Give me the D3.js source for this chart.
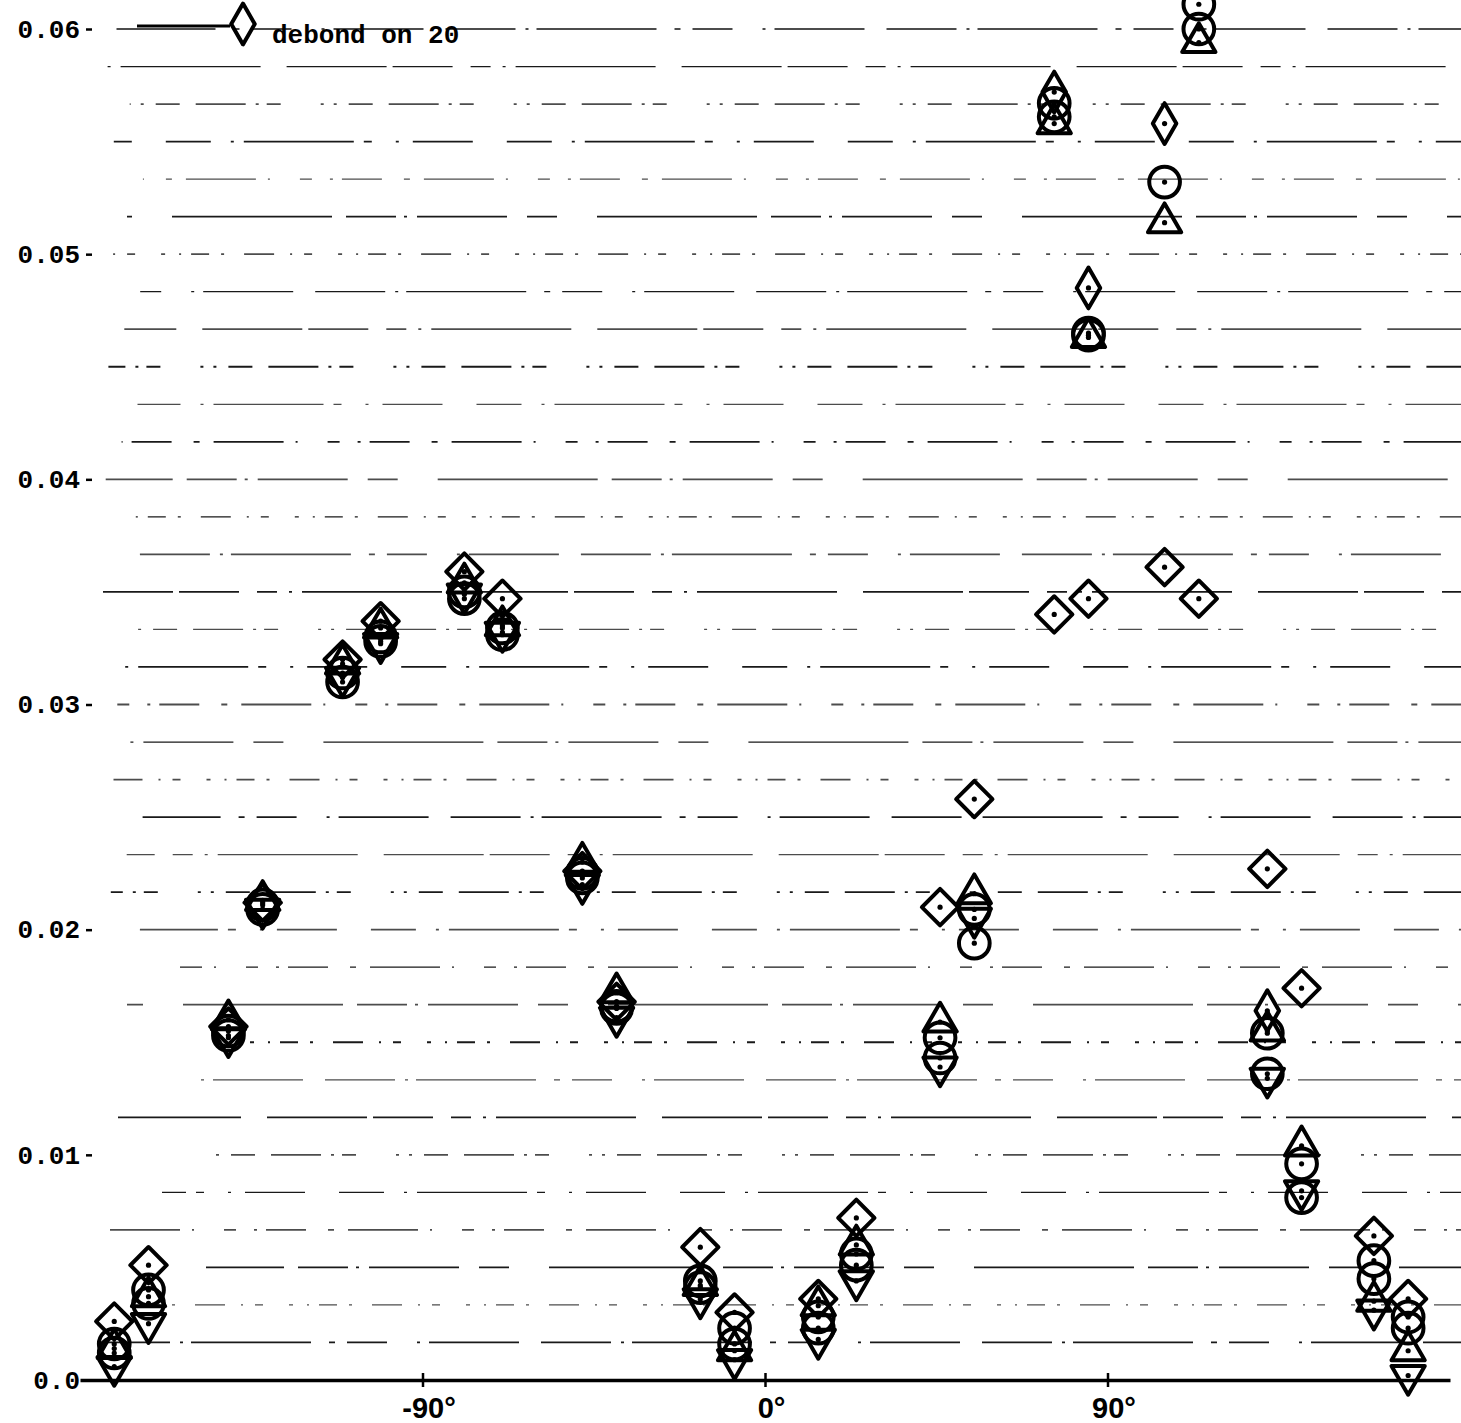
<!DOCTYPE html>
<html>
<head>
<meta charset="utf-8">
<script src="https://cdn.jsdelivr.net/npm/d3@7"></script>
<style>
  body { margin: 0; background: #fff; }
  svg { display: block; background: #fff; }
  .tick text { font-weight: bold; fill: #000; }
</style>
</head>
<body>
<svg width="1461" height="1423"></svg>
<script>
let svg = d3.select("svg");
let width = +svg.attr("width");
let height = +svg.attr("height");

// ply angles (deg) where the values were read
const angles = [-171, -162, -141, -132, -111, -101, -79, -69, -48, -39, -17, -8,
                 14, 24, 46, 55, 76, 85, 105, 114, 132, 141, 160, 169];

// wide diamond
const seriesDiamond = [0.0026, 0.0051, 0.0157, 0.0212, 0.0320, 0.0337, 0.0359, 0.0347,
                       0.0226, 0.0168, 0.0059, 0.0030, 0.0036, 0.0072, 0.0210, 0.0258,
                       0.0340, 0.0347, 0.0361, 0.0347, 0.0227, 0.0174, 0.0064, 0.0036];
// narrow diamond, "debond on 20"
const seriesDebond = [null, null, null, null, null, null, null, null,
                      null, null, null, null, null, null, null, null,
                      0.0572, 0.0485, 0.0558, null, 0.0164, null, null, null];
const seriesCircleA = [0.0016, 0.0040, 0.0155, 0.0211, 0.0314, 0.0330, 0.0350, 0.0334,
                       0.0225, 0.0166, 0.0044, 0.0023, 0.0028, 0.0056, 0.0152, 0.0209,
                       0.0567, 0.0465, 0.0532, 0.0611, 0.0154, 0.0096, 0.0053, 0.0028];
const seriesCircleB = [0.0012, 0.0034, 0.0153, 0.0209, 0.0310, 0.0328, 0.0347, 0.0331,
                       0.0223, 0.0165, 0.0041, 0.0016, 0.0023, 0.0051, 0.0143, 0.0194,
                       0.0561, 0.0464, null, 0.0600, 0.0136, 0.0081, 0.0045, 0.0023];
const seriesTriUp = [0.0014, 0.0037, 0.0160, 0.0213, 0.0318, 0.0334, 0.0354, 0.0335,
                     0.0230, 0.0172, 0.0042, 0.0013, 0.0033, 0.0060, 0.0159, 0.0216,
                     0.0558, 0.0463, 0.0514, 0.0594, 0.0155, 0.0104, 0.0035, 0.0013];
const seriesTriDown = [0.0006, 0.0025, 0.0152, 0.0209, 0.0312, 0.0327, 0.0349, 0.0332,
                       0.0220, 0.0161, 0.0036, 0.0009, 0.0018, 0.0044, 0.0139, 0.0205,
                       null, null, null, null, 0.0134, 0.0084, 0.0031, 0.0002];

const xTicks = [-90, 0, 90];
const yTicks = [0, 0.01, 0.02, 0.03, 0.04, 0.05, 0.06];
const legendLabel = "debond on 20";

let x = d3.scaleLinear().domain([-180, 180]).range([80, 1450]);
let y = d3.scaleLinear().domain([0, 0.06]).range([1380, 29]);

// ruled background lines, broken like the scan
let patterns = [
  "70,10,3,8,120,18,6,12,40,30,3,9,90,22",
  "4,14,2,10,18,12,3,20,30,16,2,12,8,26",
  "160,14,50,8,3,10,90,20,30,40",
  "12,18,3,9,40,22,6,14,70,12,2,30",
  "45,20,3,10,110,10,8,24,3,14,60,34",
  "3,10,3,12,24,16,50,10,3,8,14,40",
  "100,6,60,18,20,12,3,10,140,26"
];
let gridVals = d3.range(1, 37).map(k => k * 0.01 / 6);
svg.append("g")
  .selectAll("line")
  .data(gridVals)
  .enter().append("line")
    .attr("x1", (d, i) => 100 + (i * 53) % 150 * (d < 0.02 ? 1 : 0.3))
    .attr("x2", width)
    .attr("y1", d => y(d))
    .attr("y2", d => y(d))
    .attr("stroke", "#000")
    .attr("stroke-width", (d, i) => i % 3 === 1 ? 1.3 : 1.8)
    .attr("stroke-opacity", (d, i) => i % 2 ? 0.7 : 0.9)
    .attr("stroke-dasharray", (d, i) => patterns[i % patterns.length])
    .attr("stroke-dashoffset", (d, i) => i * 41);

// x axis
let xAxis = svg.append("g")
  .attr("transform", `translate(0,${y(0)})`)
  .call(d3.axisBottom(x).tickValues(xTicks).tickSize(7).tickSizeOuter(0)
    .tickFormat(d => d + "°"));
xAxis.select(".domain").attr("stroke", "#000").attr("stroke-width", 3.5);
xAxis.selectAll(".tick line").attr("y1", -7).attr("stroke-width", 2.5).attr("stroke", "#000");
xAxis.selectAll(".tick text")
  .attr("y", 17).attr("dy", "0.71em").attr("dx", 6)
  .style("font-family", "'Liberation Sans Narrow', 'Liberation Sans', Arial, sans-serif")
  .style("font-size", "29px");

// y axis
let yAxis = svg.append("g")
  .attr("transform", "translate(92,0)")
  .call(d3.axisLeft(y).tickValues(yTicks).tickSize(6)
    .tickFormat(d => d === 0 ? "0.0" : d3.format(".2f")(d)));
yAxis.select(".domain").remove();
yAxis.selectAll(".tick line").attr("stroke-width", 2.5).attr("stroke", "#000");
yAxis.selectAll(".tick text")
  .attr("x", -12)
  .style("font-family", "'Liberation Mono', 'Courier New', monospace")
  .style("font-size", "26px");

// markers
let series = [
  { values: seriesDiamond, path: d3.symbol().type(d3.symbolSquare).size(660)(), rotate: 45 },
  { values: seriesCircleA, path: d3.symbol().type(d3.symbolCircle).size(740)(), rotate: 0 },
  { values: seriesCircleB, path: d3.symbol().type(d3.symbolCircle).size(740)(), rotate: 0 },
  { values: seriesTriUp, path: d3.symbol().type(d3.symbolTriangle).size(480)(), rotate: 0 },
  { values: seriesTriDown, path: d3.symbol().type(d3.symbolTriangle).size(480)(), rotate: 180 },
  { values: seriesDebond, path: d3.symbol().type(d3.symbolDiamond).size(480)(), rotate: 0 }
];

for (let s of series) {
  let pts = angles.map((a, i) => ({ a: a, v: s.values[i] })).filter(p => p.v != null);
  let g = svg.append("g").selectAll("g")
    .data(pts)
    .enter().append("g")
      .attr("transform", d => `translate(${x(d.a)},${y(d.v)})`);
  g.append("path")
    .attr("d", s.path)
    .attr("transform", `rotate(${s.rotate})`)
    .attr("fill", "none")
    .attr("stroke", "#000")
    .attr("stroke-width", 4)
    .attr("stroke-linejoin", "round");
  g.append("circle")
    .attr("r", 2.6)
    .attr("fill", "#000");
}

// legend
let legend = svg.append("g");
legend.append("line")
  .attr("x1", 137).attr("x2", 230)
  .attr("y1", 26).attr("y2", 26)
  .attr("stroke", "#000").attr("stroke-width", 2.8);
legend.append("path")
  .attr("d", d3.symbol().type(d3.symbolDiamond).size(480)())
  .attr("transform", "translate(243,24)")
  .attr("fill", "none").attr("stroke", "#000")
  .attr("stroke-width", 4).attr("stroke-linejoin", "round");
legend.append("text")
  .attr("x", 272).attr("y", 43)
  .style("font-family", "'Liberation Mono', 'Courier New', monospace")
  .style("font-size", "26px").style("font-weight", "bold")
  .text(legendLabel);
</script>
</body>
</html>
